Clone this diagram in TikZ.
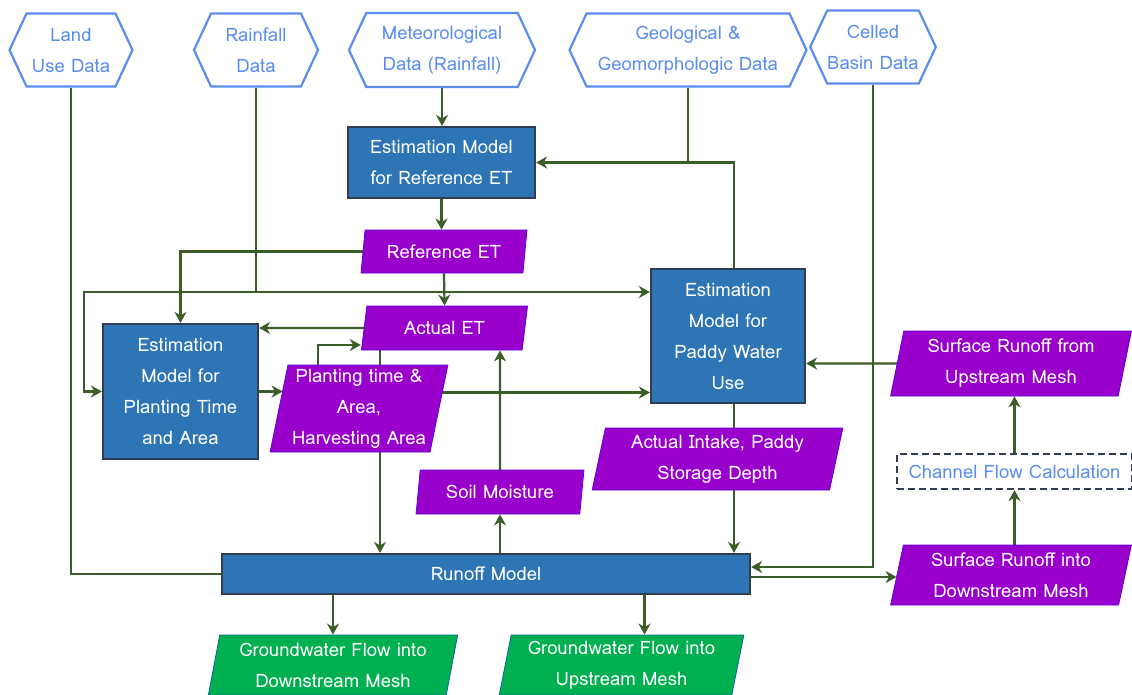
\documentclass[tikz,border=0pt]{standalone}
\usepackage{fontspec}
\setmainfont{Loma}
\usetikzlibrary{positioning,arrows.meta,shapes.geometric,shapes.symbols,backgrounds}

\definecolor{hexblue}{HTML}{5B8DEF}
\definecolor{modelblue}{HTML}{2E75B6}
\definecolor{modelborder}{HTML}{2F3E50}
\definecolor{dataviolet}{HTML}{9900CC}
\definecolor{outgreen}{HTML}{00B050}
\definecolor{linegreen}{HTML}{3B5D27}
\definecolor{dashborder}{HTML}{333F50}

\begin{document}
\begin{tikzpicture}[
  x=1pt, y=-1pt,
  font=\fontsize{18.5}{31}\selectfont,
  hexa/.style={signal, signal to=east and west, signal pointer angle=130, draw=hexblue, line width=2.2pt, fill=white, text=hexblue, align=center, inner sep=0pt},
  model/.style={draw=modelborder, line width=2.2pt, fill=modelblue, text=white, align=center, inner sep=0pt},
  data/.style={trapezium, trapezium left angle=78, trapezium right angle=102, trapezium stretches=true, draw=dataviolet!60!blue, line width=0.8pt, fill=dataviolet, text=white, align=center, inner sep=0pt},
  result/.style={data, draw=outgreen!60!blue, fill=outgreen},
  calc/.style={draw=dashborder, dashed, dash pattern=on 7pt off 4pt, line width=2.2pt, fill=white, text=hexblue, align=center, inner sep=0pt},
  link/.style={line width=2.2pt, draw=linegreen},
  arr/.style={link, -{Stealth[length=11pt, width=12pt, inset=3.5pt]}}
]
  \useasboundingbox (0,0) rectangle (1132,694);

  % input data
  \node[hexa, minimum width=123pt, minimum height=73pt] (land) at (71,50) {Land\\Use Data};
  \node[hexa, minimum width=124pt, minimum height=73pt] (rain) at (256,50) {Rainfall\\Data};
  \node[hexa, minimum width=186pt, minimum height=74pt] (meteo) at (442,50) {Meteorological\\Data (Rainfall)};
  \node[hexa, minimum width=237pt, minimum height=73pt] (geo) at (688,50) {Geological \&\\Geomorphologic Data};
  \node[hexa, minimum width=123pt, minimum height=73pt] (celled) at (873,47) {Celled\\Basin Data};

  % models
  \node[model, minimum width=187pt, minimum height=71pt] (estref) at (441.5,162.5) {Estimation Model\\for Reference ET};
  \node[model, minimum width=155pt, minimum height=135pt] (plant) at (180.5,391.5) {Estimation\\Model for\\Planting Time\\and Area};
  \node[model, minimum width=154pt, minimum height=134pt] (paddy) at (728,336) {Estimation\\Model for\\Paddy Water\\Use};
  \node[model, minimum width=528pt, minimum height=40pt] (runoff) at (486,574) {Runoff Model};

  % intermediate data
  \node[data, minimum width=166pt, minimum height=43pt] (refet) at (444,251.5) {Reference ET};
  \node[data, minimum width=167pt, minimum height=44pt] (actet) at (444.5,328) {Actual ET};
  \node[data, minimum width=178pt, minimum height=87pt] (pta) at (359,408.5) {Planting time \&\\Area,\\Harvesting Area};
  \node[data, minimum width=168pt, minimum height=44pt] (soil) at (500,492) {Soil Moisture};
  \node[data, minimum width=251pt, minimum height=62pt] (intake) at (717.5,459) {Actual Intake, Paddy\\Storage Depth};
  \node[data, minimum width=241pt, minimum height=65pt] (srup) at (1011,363.5) {Surface Runoff from\\Upstream Mesh};
  \node[data, minimum width=241pt, minimum height=60pt] (srdown) at (1011,575) {Surface Runoff into\\Downstream Mesh};
  \node[calc, minimum width=235pt, minimum height=35pt] (chan) at (1014.5,471.5) {Channel Flow Calculation};

  % outputs
  \node[result, minimum width=250pt, minimum height=60pt] (gwdown) at (333,665) {Groundwater Flow into\\Downstream Mesh};
  \node[result, minimum width=245pt, minimum height=60pt] (gwup) at (621.5,665) {Groundwater Flow into\\Upstream Mesh};

  \coordinate (lb) at (84,292);

  \begin{pgfonlayer}{background}
    \draw[arr] (meteo.south) -- (meteo.south |- estref.north);
    \draw[arr] (estref.south) -- (estref.south |- refet.north);
    \draw[arr] (refet.south) -- (actet.north);
    \draw[arr] (refet.west) -| (plant.north);
    \draw[arr] (rain.south) |- (lb) |- (plant.west);
    \draw[arr] (rain.south) |- (paddy.west |- lb);
    \draw[link] (land.south) |- (runoff.west);
    \draw[arr] (actet.center) -- (actet.west -| plant.east);
    \draw[arr] (plant.east) -- ([xshift=4pt]pta.west |- plant.east);
    \draw[arr] ([xshift=-41pt]pta.north) |- ([xshift=-3pt,yshift=-17pt]actet.west);
    \draw[arr] ([yshift=16pt]pta.center) -- ([yshift=16pt]pta.center -| paddy.west);
    \draw[arr] ([xshift=-64.5pt]actet.center) -- ([xshift=-64.5pt]actet.center |- runoff.north);
    \draw[arr] (soil.center) -- (soil.north |- actet.south);
    \draw[arr] (runoff.center -| soil.south) -- (soil.south);
    \draw[arr] ([xshift=6pt]paddy.center) -- ([xshift=6pt]paddy.center |- runoff.north);
    \draw[arr] ([xshift=6pt]paddy.north) |- (estref.east);
    \draw[link] (geo.south) -- (geo.south |- estref.east);
    \draw[arr] (celled.south) |- ([yshift=7pt]runoff.east);
    \draw[arr] ([yshift=-3pt]runoff.center) -- ([yshift=-3pt]runoff.east -| srdown.west);
    \draw[arr] (chan.south |- srdown.center) -- (chan.south);
    \draw[arr] (chan.center) -- (chan.north |- srup.south);
    \draw[arr] (srup.center) -- (srup.west -| paddy.east);
    \draw[arr] (runoff.center -| gwdown.north) -- (gwdown.north);
    \draw[arr] ([xshift=23pt]gwup.north |- runoff.center) -- ([xshift=23pt]gwup.north);
  \end{pgfonlayer}
\end{tikzpicture}
\end{document}
